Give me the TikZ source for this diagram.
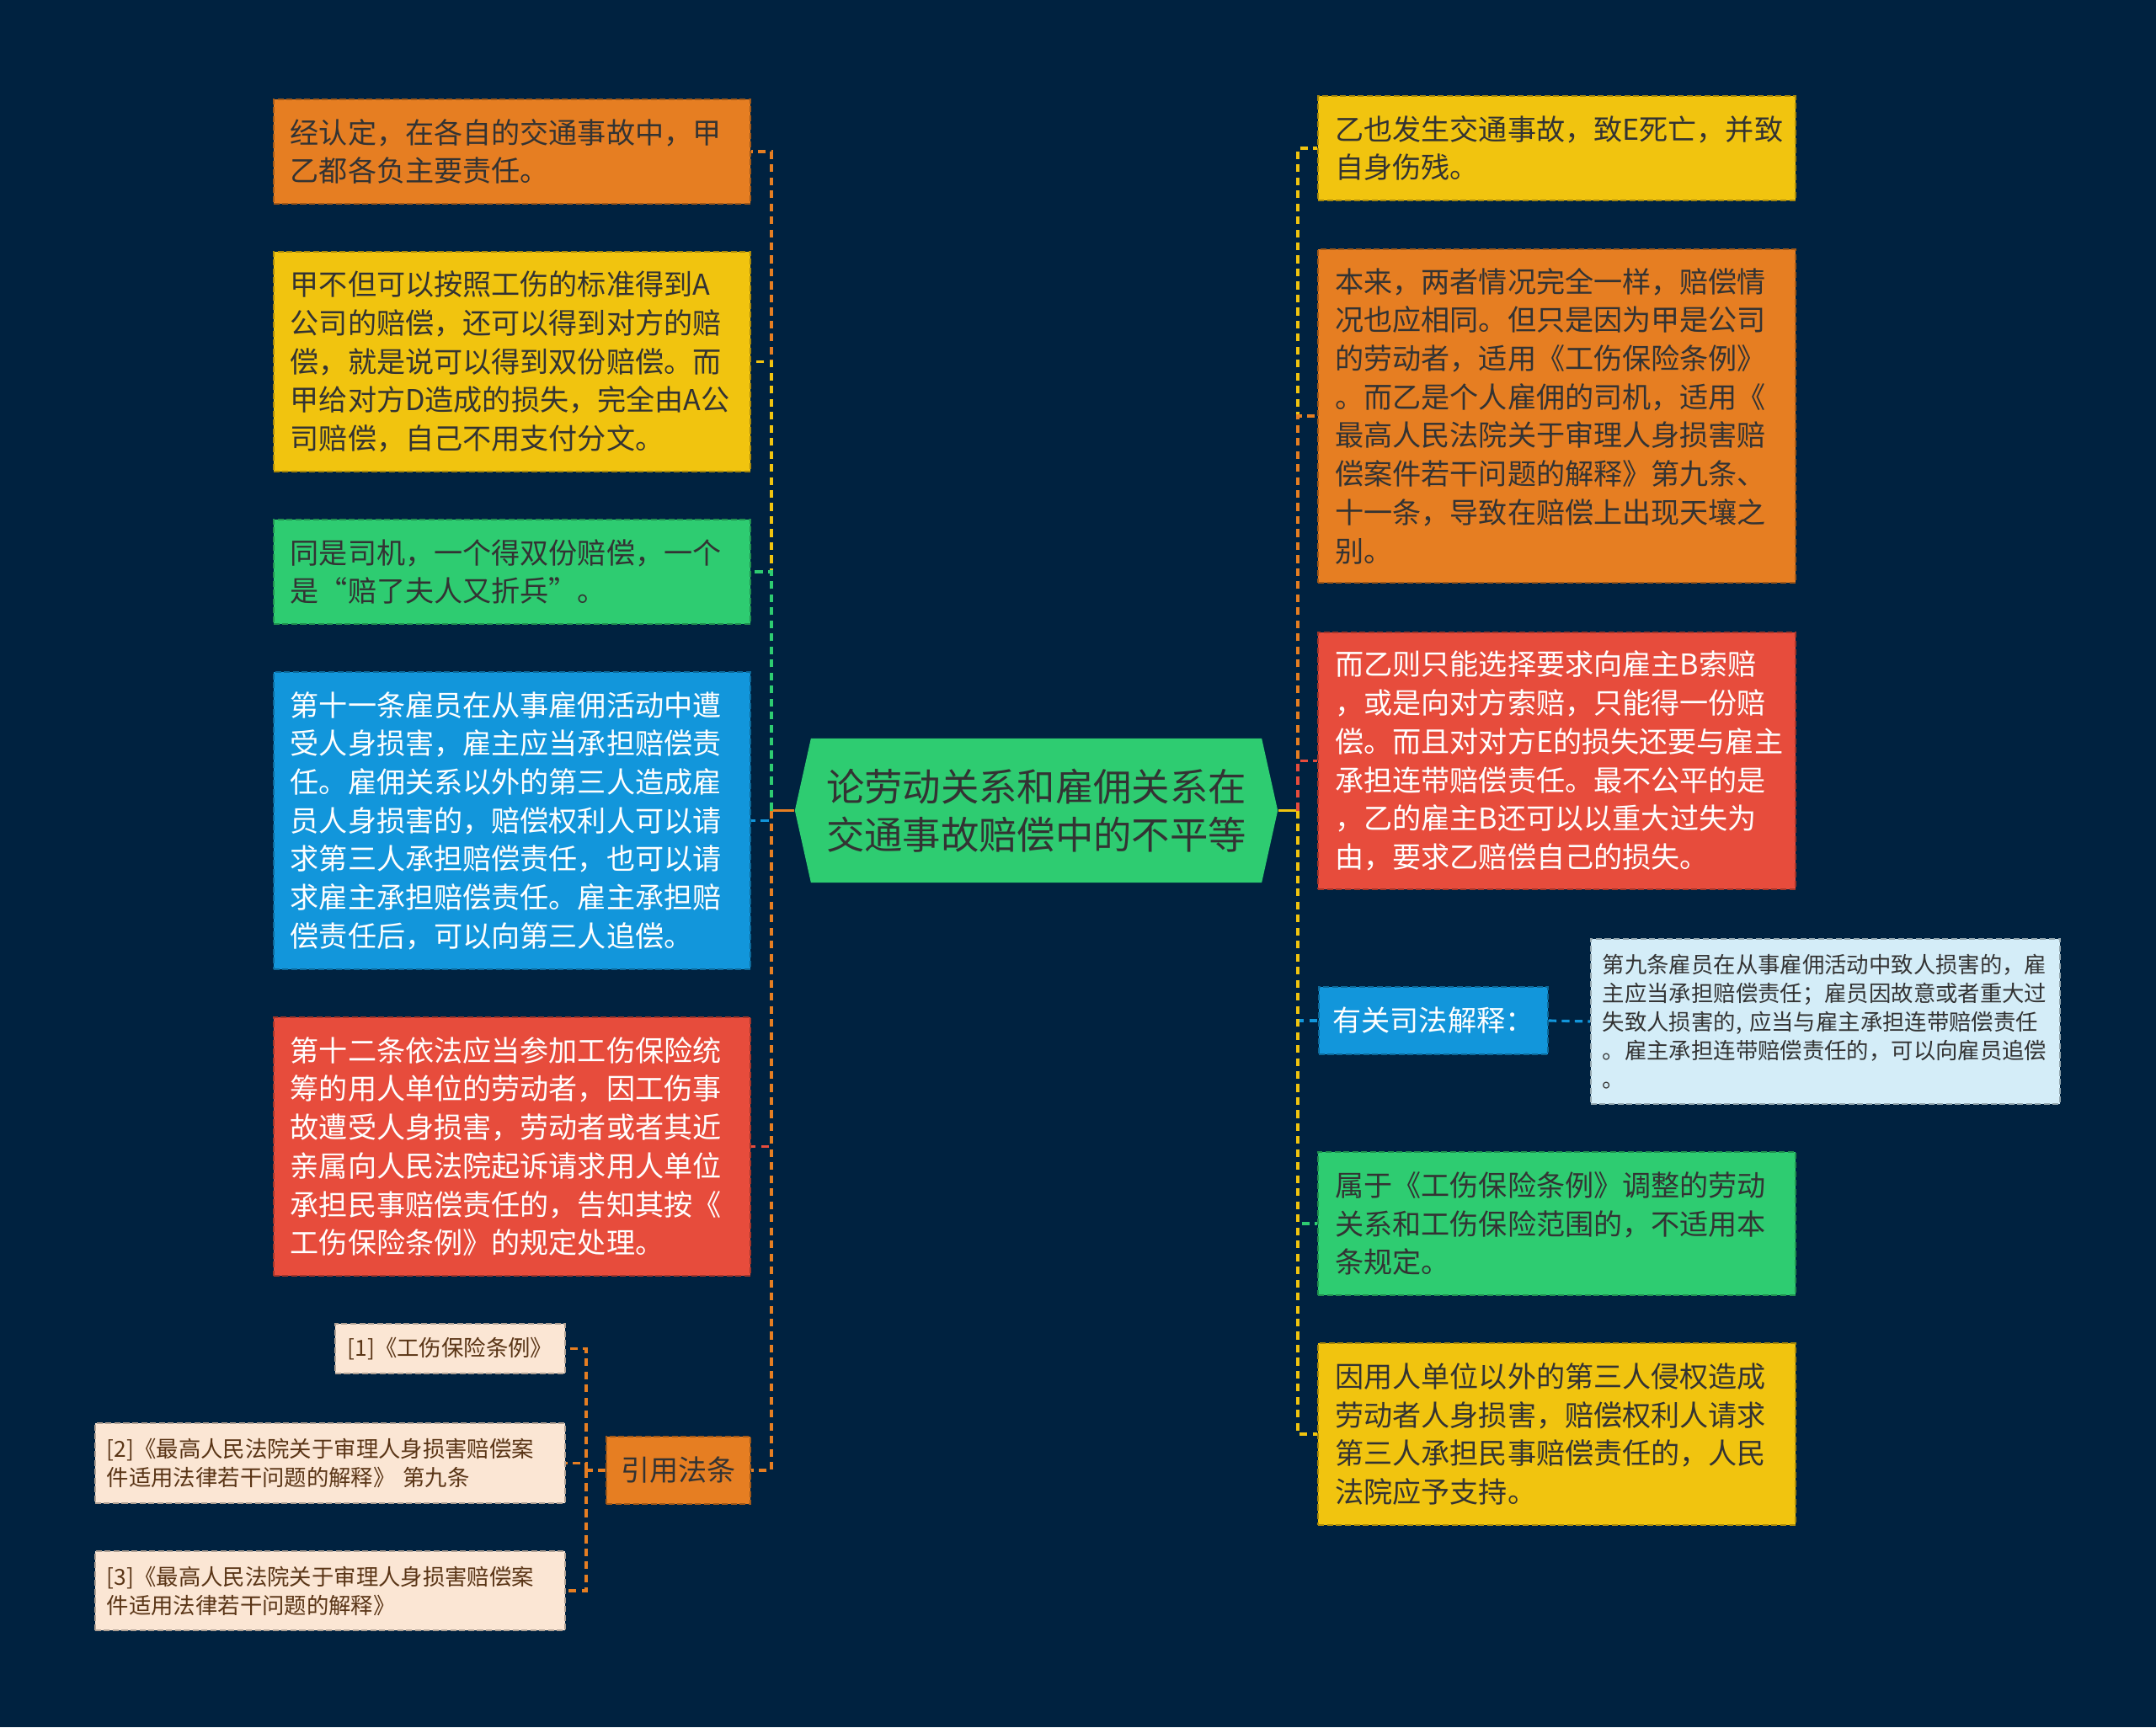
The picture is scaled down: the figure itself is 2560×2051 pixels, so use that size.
\documentclass[tikz,border=0pt]{standalone}
\usepackage{fontspec}
\setmainfont{Noto Sans CJK SC}
\definecolor{bgC}{RGB}{0,34,64}
\definecolor{orgC}{HTML}{E67E22}
\definecolor{yelC}{HTML}{F1C40F}
\definecolor{grnC}{HTML}{2ECC71}
\definecolor{bluC}{HTML}{1296DB}
\definecolor{redC}{HTML}{E74C3C}
\definecolor{refC}{HTML}{FBE6D4}
\definecolor{lbluC}{HTML}{D4EDF8}
\definecolor{txtC}{HTML}{333333}
\definecolor{reftxtC}{HTML}{5A3516}
\newcommand{\bodysize}{\fontsize{9.7pt}{13pt}\selectfont}
\newcommand{\smallsize}{\fontsize{7.5pt}{9.7pt}\selectfont}
\newcommand{\hubsize}{\fontsize{12.9pt}{16.2pt}\selectfont}

\begin{document}
\begin{tikzpicture}[
  x=0.01cm, y=-0.01cm,
  leaf/.style={rectangle, fill=#1, draw=#1!70!black, dash pattern=on 2pt off 1pt,
    line width=0.5pt, text width=5.26cm, inner xsep=0.2cm, inner ysep=0pt,
    align=left, font=\bodysize, text=txtC},
  tag/.style={rectangle, fill=#1, draw=#1!70!black, dash pattern=on 2pt off 1pt,
    line width=0.5pt, inner sep=0pt, align=center, font=\bodysize},
  note/.style={rectangle, fill=#1, draw=#1!70!black, dash pattern=on 2pt off 1pt,
    line width=0.5pt, inner xsep=0.14cm, inner ysep=0pt, align=left,
    font=\smallsize, text=txtC},
  hubbox/.style={minimum width=5.73cm, minimum height=1.71cm, align=center,
    font=\hubsize, text=txtC, inner sep=0pt,
    path picture={\fill[grnC] ([xshift=0.19cm]path picture bounding box.north west)
      -- (path picture bounding box.west)
      -- ([xshift=0.19cm]path picture bounding box.south west)
      -- ([xshift=-0.19cm]path picture bounding box.south east)
      -- (path picture bounding box.east)
      -- ([xshift=-0.19cm]path picture bounding box.north east) -- cycle;}},
  conn/.style={draw=#1, line width=0.9pt, dash pattern=on 2.6pt off 1.8pt},
  stub/.style={draw=#1, line width=0.9pt},
]
\fill[bgC] (0,0) rectangle (2560,2051);

% centre
\node[hubbox] (hub) at (1230.5,962.5) {论劳动关系和雇佣关系在\\交通事故赔偿中的不平等};
\coordinate (ltrunk) at (916,962.5);
\coordinate (rtrunk) at (1541,962.5);

% left side
\node[leaf=orgC, minimum height=1.24cm] (l1) at (608,180)
  {经认定，在各自的交通事故中，甲\\乙都各负主要责任。};
\node[leaf=yelC, minimum height=2.61cm] (l2) at (608,429.5)
  {甲不但可以按照工伤的标准得到A\\公司的赔偿，还可以得到对方的赔\\偿，就是说可以得到双份赔偿。而\\甲给对方D造成的损失，完全由A公\\司赔偿，自己不用支付分文。};
\node[leaf=grnC, minimum height=1.24cm] (l3) at (608,679)
  {同是司机，一个得双份赔偿，一个\\是“赔了夫人又折兵”。};
\node[leaf=bluC, text=white, minimum height=3.53cm] (l4) at (608,974.5)
  {第十一条雇员在从事雇佣活动中遭\\受人身损害，雇主应当承担赔偿责\\任。雇佣关系以外的第三人造成雇\\员人身损害的，赔偿权利人可以请\\求第三人承担赔偿责任，也可以请\\求雇主承担赔偿责任。雇主承担赔\\偿责任后，可以向第三人追偿。};
\node[leaf=redC, text=white, minimum height=3.07cm] (l5) at (608,1361.5)
  {第十二条依法应当参加工伤保险统\\筹的用人单位的劳动者，因工伤事\\故遭受人身损害，劳动者或者其近\\亲属向人民法院起诉请求用人单位\\承担民事赔偿责任的，告知其按《\\工伤保险条例》的规定处理。};
\node[tag=orgC, text=txtC, minimum width=1.71cm, minimum height=0.80cm] (cite) at (805.5,1746) {引用法条};

% references
\coordinate (reftrunk) at (696,1746);
\node[note=refC, text=reftxtC, minimum width=2.73cm, minimum height=0.59cm, align=center] (ref1) at (534.5,1601.5)
  {[1]《工伤保险条例》};
\node[note=refC, text=reftxtC, text width=5.30cm, minimum height=0.95cm] (ref2) at (392,1737.5)
  {[2]《最高人民法院关于审理人身损害赔偿案\\件适用法律若干问题的解释》 第九条};
\node[note=refC, text=reftxtC, text width=5.30cm, minimum height=0.94cm] (ref3) at (392,1889)
  {[3]《最高人民法院关于审理人身损害赔偿案\\件适用法律若干问题的解释》};

% right side
\node[leaf=yelC, minimum height=1.24cm] (r1) at (1848.5,176)
  {乙也发生交通事故，致E死亡，并致\\自身伤残。};
\node[leaf=orgC, minimum height=3.96cm] (r2) at (1848.5,494)
  {本来，两者情况完全一样，赔偿情\\况也应相同。但只是因为甲是公司\\的劳动者，适用《工伤保险条例》\\。而乙是个人雇佣的司机，适用《\\最高人民法院关于审理人身损害赔\\偿案件若干问题的解释》第九条、\\十一条，导致在赔偿上出现天壤之\\别。};
\node[leaf=redC, text=white, minimum height=3.05cm] (r3) at (1848.5,903.5)
  {而乙则只能选择要求向雇主B索赔\\，或是向对方索赔，只能得一份赔\\偿。而且对对方E的损失还要与雇主\\承担连带赔偿责任。最不公平的是\\，乙的雇主B还可以以重大过失为\\由，要求乙赔偿自己的损失。};
\node[tag=bluC, text=white, minimum width=2.72cm, minimum height=0.80cm] (r4) at (1702,1212) {有关司法解释：};
\node[note=lbluC, text width=5.29cm, minimum height=1.96cm] (r4x) at (2167.5,1213)
  {第九条雇员在从事雇佣活动中致人损害的，雇\\主应当承担赔偿责任；雇员因故意或者重大过\\失致人损害的, 应当与雇主承担连带赔偿责任\\。雇主承担连带赔偿责任的，可以向雇员追偿\\。};
\node[leaf=grnC, minimum height=1.70cm] (r5) at (1848.5,1453)
  {属于《工伤保险条例》调整的劳动\\关系和工伤保险范围的，不适用本\\条规定。};
\node[leaf=yelC, minimum height=2.16cm] (r6) at (1848.5,1703)
  {因用人单位以外的第三人侵权造成\\劳动者人身损害，赔偿权利人请求\\第三人承担民事赔偿责任的，人民\\法院应予支持。};

% connectors, left
\draw[stub=orgC] (hub.west) -- (ltrunk);
\draw[conn=orgC] (ltrunk) |- (l1.east);
\draw[conn=yelC] (ltrunk) |- (l2.east);
\draw[conn=grnC] (ltrunk) |- (l3.east);
\draw[conn=bluC] (ltrunk) |- (l4.east);
\draw[conn=redC] (ltrunk) |- (l5.east);
\draw[conn=orgC] (ltrunk) |- (cite.east);
\draw[conn=orgC] (cite.west) -- (reftrunk);
\draw[conn=orgC] (reftrunk) |- (ref1.east);
\draw[conn=orgC] (reftrunk) |- (ref2.east);
\draw[conn=orgC] (reftrunk) |- (ref3.east);

% connectors, right
\draw[stub=yelC] (hub.east) -- (rtrunk);
\draw[conn=yelC] (rtrunk) |- (r1.west);
\draw[conn=orgC] (rtrunk) |- (r2.west);
\draw[conn=redC] (rtrunk) |- (r3.west);
\draw[conn=bluC] (rtrunk) |- (r4.west);
\draw[conn=bluC] (r4.east) -- (r4x.west);
\draw[conn=grnC] (rtrunk) |- (r5.west);
\draw[conn=yelC] (rtrunk) |- (r6.west);
\end{tikzpicture}
\end{document}
